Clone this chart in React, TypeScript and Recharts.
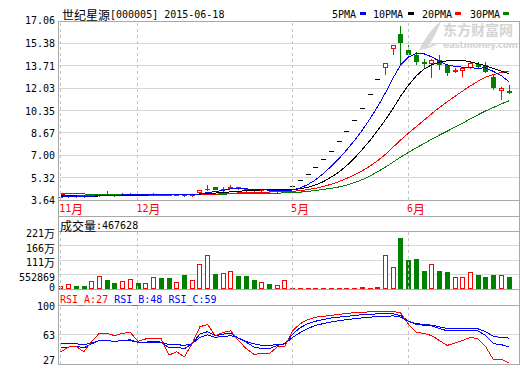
import React from 'react'
import { Bar, CartesianGrid, ComposedChart, Line, ReferenceLine, XAxis, YAxis } from 'recharts'

// 世纪星源 [000005], daily K-line, 2014-11 .. 2015-06-18 (trading suspended Dec..Apr)
const opens = [
  3.82, 3.86, 3.96, 3.93, 3.9, 3.98, 4.08, 4.04, 3.99, 4.04,
  4.09, 4.02, 4.05, 4.1, 4.06, 4.01, 4.05, 3.93, 4.16, 4.48,
  4.58, 4.44, 4.48, 4.58, 4.46, 4.38, 4.3, 4.36, 4.29, 4.24,
  4.71, 5.12, 5.59, 6.09, 6.71, 7.31, 8.06, 8.81, 9.62, 10.51,
  11.56, 12.69, 13.51, 14.94, 16.09, 14.89, 14.51, 14.01, 13.81, 14.14,
  13.76, 13.26, 13.33, 13.51, 13.84, 13.76, 12.84, 11.84, 11.84,
]
const highs = [
  3.86, 3.98, 3.98, 3.95, 4.0, 4.12, 4.28, 4.08, 4.2, 4.18,
  4.12, 4.1, 4.15, 4.12, 4.08, 4.08, 4.1, 4.1, 4.42, 4.79,
  4.62, 4.6, 4.75, 4.62, 4.5, 4.42, 4.4, 4.38, 4.36, 4.32,
  4.71, 5.12, 5.59, 6.09, 6.71, 7.31, 8.06, 8.81, 9.62, 10.51,
  11.56, 12.69, 13.93, 15.26, 16.69, 15.26, 14.76, 14.19, 14.19, 14.51,
  13.76, 13.56, 13.6, 14.0, 14.0, 14.0, 13.01, 12.1, 12.26,
]
const lows = [
  3.8, 3.85, 3.9, 3.88, 3.89, 3.96, 4.0, 3.97, 3.98, 4.02,
  4.0, 4.0, 4.03, 4.03, 3.98, 3.98, 3.96, 3.9, 4.14, 4.38,
  4.38, 4.15, 4.45, 4.42, 4.35, 4.28, 4.26, 4.26, 4.25, 4.22,
  4.71, 5.12, 5.59, 6.09, 6.71, 7.31, 8.06, 8.81, 9.62, 10.51,
  11.56, 12.69, 13.01, 14.51, 13.76, 14.34, 13.76, 13.51, 12.76, 13.39,
  12.94, 13.14, 12.84, 13.45, 13.51, 13.14, 11.89, 11.14, 11.6,
]
const closes = [
  3.84, 3.95, 3.92, 3.9, 3.98, 4.08, 4.02, 3.99, 4.05, 4.09,
  4.03, 4.06, 4.1, 4.06, 4.02, 4.05, 3.99, 4.06, 4.41, 4.5,
  4.42, 4.46, 4.6, 4.47, 4.38, 4.32, 4.36, 4.3, 4.33, 4.28,
  4.71, 5.12, 5.59, 6.09, 6.71, 7.31, 8.06, 8.81, 9.62, 10.51,
  11.56, 12.69, 13.93, 15.26, 15.39, 14.51, 14.01, 13.81, 14.14, 13.76,
  13.14, 13.39, 13.56, 13.89, 13.64, 13.26, 12.01, 12.01, 11.64,
]
const ma5 = [
  3.93, 3.93, 3.92, 3.91, 3.92, 3.97, 3.98, 3.99, 4.02, 4.05,
  4.04, 4.04, 4.07, 4.07, 4.05, 4.06, 4.04, 4.03, 4.1, 4.2,
  4.27, 4.36, 4.48, 4.49, 4.47, 4.45, 4.43, 4.37, 4.34, 4.32,
  4.4, 4.55, 4.81, 5.16, 5.64, 6.16, 6.75, 7.4, 8.1, 8.86,
  9.71, 10.64, 11.66, 12.79, 13.77, 14.36, 14.62, 14.6, 14.37, 14.05,
  13.77, 13.65, 13.6, 13.55, 13.52, 13.55, 13.27, 12.96, 12.51,
]
const ma10 = [
  3.95, 3.94, 3.94, 3.93, 3.93, 3.94, 3.95, 3.96, 3.97, 3.98,
  4.0, 4.01, 4.03, 4.05, 4.05, 4.05, 4.04, 4.05, 4.08, 4.13,
  4.16, 4.2, 4.25, 4.3, 4.33, 4.36, 4.4, 4.42, 4.41, 4.39,
  4.42, 4.49, 4.6, 4.78, 5.02, 5.36, 5.74, 6.22, 6.78, 7.42,
  8.1, 8.85, 9.65, 10.5, 11.45, 12.25, 12.95, 13.45, 13.78, 13.98,
  14.08, 14.13, 14.1, 14.0, 13.85, 13.7, 13.5, 13.3, 13.1,
]
const ma20 = [
  4.02, 4.01, 4.01, 4.0, 4.0, 4.0, 4.0, 3.99, 3.99, 4.0,
  4.0, 4.0, 4.01, 4.01, 4.01, 4.02, 4.02, 4.02, 4.04, 4.05,
  4.08, 4.11, 4.14, 4.17, 4.19, 4.2, 4.22, 4.24, 4.25, 4.26,
  4.29, 4.35, 4.42, 4.52, 4.66, 4.82, 5.02, 5.26, 5.52, 5.82,
  6.18, 6.59, 7.06, 7.6, 8.15, 8.66, 9.14, 9.62, 10.11, 10.58,
  11.0, 11.41, 11.81, 12.2, 12.55, 12.85, 13.04, 13.2, 13.31,
]
const ma30 = [
  4.1, 4.1, 4.09, 4.09, 4.08, 4.08, 4.08, 4.07, 4.07, 4.07,
  4.06, 4.06, 4.06, 4.05, 4.05, 4.05, 4.04, 4.04, 4.05, 4.06,
  4.07, 4.08, 4.1, 4.11, 4.12, 4.13, 4.14, 4.15, 4.16, 4.17,
  4.2, 4.23, 4.29, 4.36, 4.43, 4.52, 4.62, 4.76, 4.94, 5.16,
  5.43, 5.76, 6.1, 6.48, 6.86, 7.21, 7.55, 7.87, 8.2, 8.51,
  8.8, 9.1, 9.4, 9.72, 10.03, 10.32, 10.58, 10.84, 11.08,
]
const volumes = [
  114000, 179000, 114000, 114000, 294000, 484000, 343000, 229000, 294000, 370000,
  229000, 217000, 458000, 419000, 419000, 255000, 534000, 332000, 942000, 1285000,
  572000, 599000, 675000, 496000, 496000, 343000, 255000, 191000, 141000, 332000,
  30000, 25000, 25000, 25000, 25000, 25000, 25000, 25000, 25000, 76000,
  30000, 88000, 1285000, 827000, 1945000, 1106000, 1144000, 686000, 942000, 686000,
  648000, 458000, 458000, 637000, 534000, 458000, 534000, 522000, 467628,
]
const rsiA = [
  42, 48, 49, 42, 55, 65, 65, 62, 65, 66,
  55, 58, 59, 58, 38, 42, 36, 52, 73, 76,
  62, 66, 68, 56, 46, 39, 40, 40, 48, 49,
  68, 77, 82, 85, 86, 87, 88.5, 89.5, 90.5, 91,
  91.5, 92, 92, 92, 90, 76, 66, 65, 62, 56,
  50, 53, 56, 60, 58, 48, 32, 33, 28,
]
const rsiB = [
  48, 48, 49, 47, 52, 56, 56, 55, 56, 57,
  54, 54, 55, 54, 47, 48, 46, 52, 64, 67,
  62, 64, 65, 59, 54, 48, 46, 46, 50, 52,
  64, 72, 77, 80, 82, 84, 85, 86, 87, 88,
  88.5, 89, 89, 89, 87, 80, 76, 75, 74, 71,
  68, 68, 68, 69, 68, 62, 52, 51, 48,
]
const rsiC = [
  52, 52, 52, 51, 53, 56, 56, 55, 56, 56,
  54, 54, 54, 54, 51, 51, 50, 52, 60, 63,
  60, 61, 62, 59, 55, 52, 50, 50, 51, 52,
  60, 66, 71, 75, 77, 79, 80.5, 82, 83, 84,
  85, 85.5, 86, 86.5, 85, 80, 77, 76, 75, 73,
  71, 70.5, 70.5, 71, 70.5, 67, 61, 60, 59,
]
const rsiLabels = ['RSI_A:27', ' RSI_B:48', ' RSI_C:59']

const monthTicks = [0, 10, 30, 45]
const monthLabels = ['11月', '12月', '5月', '6月']
const priceTicks = [3.64, 5.32, 7.0, 8.67, 10.35, 12.03, 13.71, 15.38, 17.06]
const volTicks = [0, 552869, 1105738, 1658607, 2211476]
const rsiTicks = [27, 63, 100]

const RED = '#ff0000'
const GREEN = '#008000'
const BLUE = '#0000ff'
const BLACK = '#000000'
const FRAME = '#a8a8a8'
const GRID = '#d6d6d6'
const DASH = '#c4c4c4'
const MONO = '"DejaVu Sans Mono", "Liberation Mono", monospace'
const CJK = '"Noto Sans CJK SC", sans-serif'
const X_DOMAIN: [number, number] = [-0.22, 59.29]

const rows = closes.map((c, i) => ({
  i,
  o: opens[i],
  h: highs[i],
  l: lows[i],
  c,
  range: [lows[i], highs[i]],
  ma5: ma5[i],
  ma10: ma10[i],
  ma20: ma20[i],
  ma30: ma30[i],
  vol: volumes[i],
  rsiA: rsiA[i],
  rsiB: rsiB[i],
  rsiC: rsiC[i],
}))

const isCjk = (s: string) => /[\u3400-\u9fff]/.test(s)

// latin in a 6px-wide mono, CJK larger, like the SimSun bitmap font of the original
function Mixed({ x, y, text, fill = BLACK, anchor = 'start', cjkSize = 12 }: any) {
  const parts: string[] = text.match(/[\u3400-\u9fff]+|[^\u3400-\u9fff]+/g) || []
  return (
    <text x={x} y={y} fill={fill} textAnchor={anchor} dominantBaseline="central" xmlSpace="preserve">
      {parts.map((p, k) =>
        isCjk(p) ? (
          <tspan key={k} fontFamily={CJK} fontSize={cjkSize}>{p}</tspan>
        ) : (
          <tspan key={k} fontFamily={MONO} fontSize={10}>{p}</tspan>
        ),
      )}
    </text>
  )
}

function Candle(props: any) {
  const { x, y, width, height, payload } = props
  if (x == null || y == null) return null
  const cx = Math.round(x + width / 2)
  const top = Math.min(y, y + height)
  const bot = Math.max(y, y + height)
  const { o, h, l, c } = payload
  const span = h - l
  const py = (p: number) => (span > 0 ? top + ((h - p) / span) * (bot - top) : top)
  const color = c > o ? RED : c < o ? GREEN : BLACK
  const wx = cx + 0.5
  const t = Math.round(top)
  const b = Math.round(bot)
  const yt = Math.round(Math.min(py(o), py(c)))
  const yb = Math.round(Math.max(py(o), py(c)))
  if (yb - yt < 2) {
    return (
      <g>
        {b > t && <line x1={wx} x2={wx} y1={t} y2={b + 1} stroke={color} />}
        <line x1={cx - 2} x2={cx + 3} y1={yt + 0.5} y2={yt + 0.5} stroke={color} />
      </g>
    )
  }
  if (color === RED) {
    return (
      <g>
        <line x1={wx} x2={wx} y1={t} y2={yt} stroke={color} />
        <line x1={wx} x2={wx} y1={yb} y2={b} stroke={color} />
        <rect x={cx - 1.5} y={yt + 0.5} width={4} height={yb - yt - 1} fill="#fff" stroke={color} />
      </g>
    )
  }
  return (
    <g>
      <line x1={wx} x2={wx} y1={t} y2={b} stroke={color} />
      <rect x={cx - 2} y={yt} width={5} height={yb - yt} fill={color} />
    </g>
  )
}

function VolBar(props: any) {
  const { x, y, width, height, payload } = props
  if (x == null || y == null) return null
  const cx = Math.round(x + width / 2)
  const bot = Math.round(Math.max(y, y + height))
  let top = Math.round(Math.min(y, y + height))
  if (bot - top < 1) top = bot - 1
  const up = payload.c >= payload.o
  if (!up) return <rect x={cx - 2} y={top} width={5} height={bot - top} fill={GREEN} />
  if (bot - top <= 2) return <rect x={cx - 2} y={top} width={5} height={bot - top} fill={RED} />
  return <rect x={cx - 1.5} y={top + 0.5} width={4} height={bot - top - 1} fill="#fff" stroke={RED} />
}

function MonthTick(props: any) {
  const { x, y, payload } = props
  const label = monthLabels[monthTicks.indexOf(payload.value)]
  return <Mixed x={x - 1.5} y={y + 8} text={label} fill={RED} />
}

const yTick = (fmt: (v: number) => string, shift: (v: number) => number) => (props: any) => {
  const { x, y, payload } = props
  return <Mixed x={x} y={y + shift(payload.value)} text={fmt(payload.value)} anchor="end" cjkSize={11} />
}

const priceTick = yTick((v) => v.toFixed(2), (v) => (v === 17.06 ? -1 : 0))
const volTick = yTick(
  (v) => (v >= 1e6 ? `${Math.round(v / 1e4)}万` : `${v}`),
  (v) => (v === 0 ? -2 : 2),
)
const rsiTick = yTick((v) => `${v}`, (v) => (v === 100 ? 1 : v === 27 ? -4 : 0.5))

const monthLines = monthTicks.map((m) => (
  <ReferenceLine key={m} x={m} stroke={DASH} strokeDasharray="3 3" />
))

const legend = [
  { label: '5PMA', x: 332, sw: 360, color: BLUE },
  { label: '10PMA', x: 373, sw: 408, color: BLACK },
  { label: '20PMA', x: 422, sw: 455, color: RED },
  { label: '30PMA', x: 470, sw: 503, color: GREEN },
]

function Watermark() {
  return (
    <svg width={520} height={365} style={{ position: 'absolute', left: 0, top: 0 }}>
      <path d="M419,50 C424,40 431,29 441,21 C438,30 433,40 428,46 C433,44 436,43 439,43 C433,47 426,49 419,50 Z" fill="#d8d8d8" />
      <text x={443} y={29} fontFamily={CJK} fontSize={14} fontWeight={700} fill="#d4d4d4" dominantBaseline="central">
        东方财富网
      </text>
      <text x={443} y={45} fontFamily='"DejaVu Sans", sans-serif' fontSize={9} fontWeight={700} fill="#d4d4d4" dominantBaseline="central" textLength={75}>
        eastmoney.com
      </text>
    </svg>
  )
}

function Overlay() {
  const hLines = [21, 200, 216, 231, 289, 305, 364]
  const rsiColors = [RED, BLUE, BLUE]
  return (
    <svg width={520} height={365} style={{ position: 'absolute', left: 0, top: 0, pointerEvents: 'none' }}>
      <g shapeRendering="crispEdges" stroke={FRAME}>
        {hLines.map((y) => (
          <line key={y} x1={58} x2={520} y1={y + 0.5} y2={y + 0.5} />
        ))}
        <line x1={58.5} x2={58.5} y1={21} y2={365} />
        <line x1={519.5} x2={519.5} y1={21} y2={365} />
      </g>
      <Mixed x={62} y={14} text="世纪星源[000005] 2015-06-18" />
      {legend.map((g) => (
        <g key={g.label}>
          <Mixed x={g.x} y={14} text={g.label} />
          <rect x={g.sw} y={12} width={6} height={3} fill={g.color} />
        </g>
      ))}
      <Mixed x={60} y={225} text={`成交量:${volumes[volumes.length - 1]}`} />
      <text x={60} y={299} dominantBaseline="central" fontFamily={MONO} fontSize={10} xmlSpace="preserve">
        {rsiLabels.map((s, k) => (
          <tspan key={k} fill={rsiColors[k]}>{s}</tspan>
        ))}
      </text>
    </svg>
  )
}

const chartStyle = { shapeRendering: 'crispEdges' as const, overflow: 'visible' as const }

export default function App() {
  return (
    <div style={{ position: 'absolute', left: 0, top: 0, width: 520, height: 365, background: '#fff', overflow: 'hidden' }}>
      <Watermark />
      <div style={{ position: 'absolute', left: 0, top: 0 }}>
        <ComposedChart data={rows} width={520} height={216} margin={{ top: 21, right: 1, bottom: 0, left: 0 }} style={chartStyle}>
          <CartesianGrid vertical={false} stroke={GRID} />
          <XAxis
            type="number"
            dataKey="i"
            domain={X_DOMAIN}
            allowDataOverflow
            ticks={monthTicks}
            interval={0}
            height={16}
            tickSize={0}
            tickMargin={0}
            axisLine={false}
            tickLine={false}
            tick={MonthTick}
          />
          <YAxis
            type="number"
            domain={[3.64, 17.06]}
            allowDataOverflow
            ticks={priceTicks}
            interval={0}
            width={59}
            tickSize={2}
            tickMargin={2}
            axisLine={false}
            tickLine={false}
            tick={priceTick}
          />
          {monthLines}
          <Bar dataKey="range" barSize={5} shape={(p: any) => <Candle {...p} />} isAnimationActive={false} />
          <Line type="linear" dataKey="ma30" stroke={GREEN} strokeWidth={1} dot={false} isAnimationActive={false} />
          <Line type="linear" dataKey="ma20" stroke={RED} strokeWidth={1} dot={false} isAnimationActive={false} />
          <Line type="linear" dataKey="ma10" stroke={BLACK} strokeWidth={1} dot={false} isAnimationActive={false} />
          <Line type="linear" dataKey="ma5" stroke={BLUE} strokeWidth={1} dot={false} isAnimationActive={false} />
        </ComposedChart>
      </div>
      <div style={{ position: 'absolute', left: 0, top: 216 }}>
        <ComposedChart data={rows} width={520} height={80} margin={{ top: 15, right: 1, bottom: 7, left: 0 }} style={chartStyle}>
          <CartesianGrid vertical={false} stroke={GRID} />
          <XAxis type="number" dataKey="i" domain={X_DOMAIN} allowDataOverflow hide />
          <YAxis
            type="number"
            domain={[0, 2211476]}
            allowDataOverflow
            ticks={volTicks}
            interval={0}
            width={59}
            tickSize={2}
            tickMargin={2}
            axisLine={false}
            tickLine={false}
            tick={volTick}
          />
          {monthLines}
          <Bar dataKey="vol" barSize={5} shape={(p: any) => <VolBar {...p} />} isAnimationActive={false} />
        </ComposedChart>
      </div>
      <div style={{ position: 'absolute', left: 0, top: 290 }}>
        <ComposedChart data={rows} width={520} height={75} margin={{ top: 15, right: 1, bottom: 1, left: 0 }} style={chartStyle}>
          <CartesianGrid vertical={false} stroke={GRID} />
          <XAxis type="number" dataKey="i" domain={X_DOMAIN} allowDataOverflow hide />
          <YAxis
            type="number"
            domain={[27, 100]}
            allowDataOverflow
            ticks={rsiTicks}
            interval={0}
            width={59}
            tickSize={2}
            tickMargin={2}
            axisLine={false}
            tickLine={false}
            tick={rsiTick}
          />
          {monthLines}
          <Line type="linear" dataKey="rsiC" stroke={BLUE} strokeWidth={1} dot={false} isAnimationActive={false} />
          <Line type="linear" dataKey="rsiB" stroke={BLUE} strokeWidth={1} dot={false} isAnimationActive={false} />
          <Line type="linear" dataKey="rsiA" stroke={RED} strokeWidth={1} dot={false} isAnimationActive={false} />
        </ComposedChart>
      </div>
      <Overlay />
    </div>
  )
}
